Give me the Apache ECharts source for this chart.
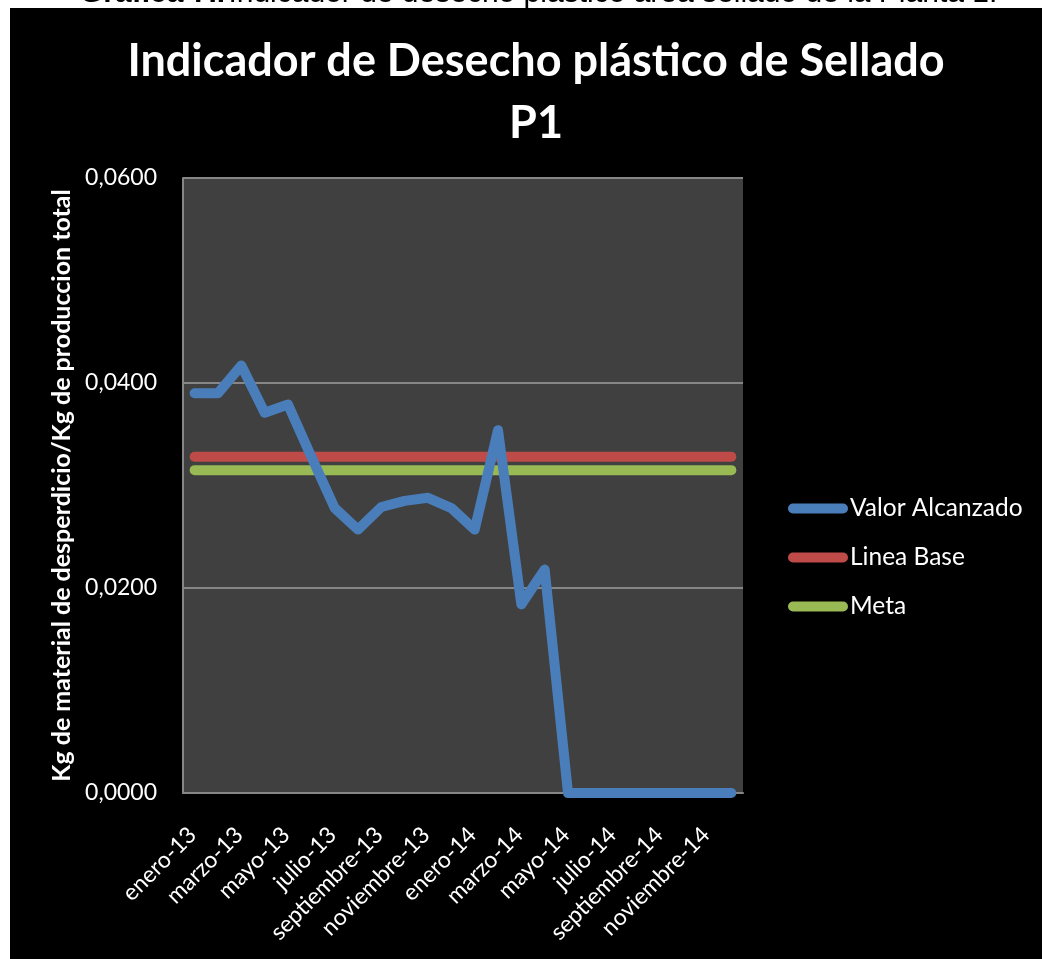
<!DOCTYPE html>
<html>
<head>
<meta charset="utf-8">
<script src="https://cdn.jsdelivr.net/npm/echarts@6/dist/echarts.min.js"></script>
<style>
  html, body { margin: 0; padding: 0; background: #fff; }
  #chart { width: 1042px; height: 959px; }
</style>
</head>
<body>
<div id="chart"></div>
<script>
// Meses del periodo enero 2013 - diciembre 2014
const meses = [
  'enero-13', 'febrero-13', 'marzo-13', 'abril-13', 'mayo-13', 'junio-13',
  'julio-13', 'agosto-13', 'septiembre-13', 'octubre-13', 'noviembre-13', 'diciembre-13',
  'enero-14', 'febrero-14', 'marzo-14', 'abril-14', 'mayo-14', 'junio-14',
  'julio-14', 'agosto-14', 'septiembre-14', 'octubre-14', 'noviembre-14', 'diciembre-14'
];

// Kg de desperdicio / Kg de producción total
const valorAlcanzado = [
  0.0390, 0.0390, 0.0417, 0.0371, 0.0379, 0.0328,
  0.0278, 0.0257, 0.0279, 0.0285, 0.0288, 0.0278,
  0.0257, 0.0354, 0.0184, 0.0218, 0.0000, 0.0000,
  0.0000, 0.0000, 0.0000, 0.0000, 0.0000, 0.0000
];
const lineaBaseValor = 0.0328;
const metaValor = 0.0315;
const lineaBase = meses.map(() => lineaBaseValor);
const meta = meses.map(() => metaValor);

// Escala del eje vertical
const yMin = 0, yMax = 0.06, yPaso = 0.02;

const fuente = 'Lato';
const chart = echarts.init(document.getElementById('chart'));

chart.setOption({
  backgroundColor: 'transparent',
  animation: false,
  graphic: [
    {
      type: 'text', left: 80, top: -21, z: -200,
      style: {
        rich: {
          b: { fontFamily: 'Liberation Sans', fontWeight: 'bold', fontSize: 30, fill: '#000' },
          n: { fontFamily: 'Liberation Sans', fontSize: 30, fill: '#000' }
        },
        text: '{b|Gráfica 7I.} {n|Indicador de desecho plástico área sellado de la Planta 1.}'
      }
    },
    {
      type: 'rect', z: -100,
      shape: { x: 10, y: 8, width: 1032, height: 951 },
      style: { fill: '#000' }
    }
  ],
  title: {
    text: 'Indicador de Desecho plástico de Sellado\nP1',
    left: 531,
    top: 25,
    textAlign: 'center',
    textStyle: {
      color: '#fff',
      fontFamily: fuente,
      fontWeight: 'bold',
      fontSize: 45,
      lineHeight: 62
    }
  },
  legend: {
    orient: 'vertical',
    left: 788,
    top: 496,
    padding: 0,
    itemWidth: 60,
    itemHeight: 10,
    itemGap: 24,
    icon: 'path://M5,0 H55 A5,5 0 0 1 55,10 H5 A5,5 0 0 1 5,0 Z',
    textStyle: { color: '#fff', fontFamily: fuente, fontSize: 24.5, padding: [0, 0, 0, -3] },
    data: ['Valor Alcanzado', 'Linea Base', 'Meta']
  },
  grid: {
    left: 183, top: 178, width: 560, height: 615,
    show: true, backgroundColor: '#404040', borderWidth: 0
  },
  xAxis: {
    type: 'category',
    data: meses,
    boundaryGap: true,
    axisLine: { lineStyle: { color: '#868686', width: 2 } },
    axisTick: { show: false },
    axisLabel: {
      interval: 1,
      rotate: 45,
      margin: 36,
      color: '#fff',
      fontFamily: fuente,
      fontSize: 23,
      padding: [0, 3, 0, 0]
    }
  },
  yAxis: {
    type: 'value',
    min: yMin, max: yMax, interval: yPaso,
    name: 'Kg de material de desperdicio/Kg de produccion total',
    nameLocation: 'middle',
    nameGap: 104,
    nameTextStyle: { color: '#fff', fontFamily: fuente, fontWeight: 'bold', fontSize: 25 },
    axisLine: { show: true, lineStyle: { color: '#868686', width: 2 } },
    axisTick: { show: false },
    splitLine: { lineStyle: { color: '#868686', width: 2 } },
    axisLabel: {
      color: '#fff', fontFamily: fuente, fontSize: 23, margin: 26,
      formatter: v => v.toFixed(4).replace('.', ',')
    }
  },
  series: [
    {
      name: 'Valor Alcanzado', type: 'line', data: valorAlcanzado,
      symbol: 'none', color: '#4A7EBB', z: 4,
      lineStyle: { width: 10, cap: 'round', join: 'round', color: '#4A7EBB' }
    },
    {
      name: 'Linea Base', type: 'line', data: lineaBase,
      symbol: 'none', color: '#BE4B48', z: 3,
      lineStyle: { width: 10, cap: 'round', join: 'round', color: '#BE4B48' }
    },
    {
      name: 'Meta', type: 'line', data: meta,
      symbol: 'none', color: '#98B954', z: 2,
      lineStyle: { width: 10, cap: 'round', join: 'round', color: '#98B954' }
    }
  ]
});
</script>
</body>
</html>
